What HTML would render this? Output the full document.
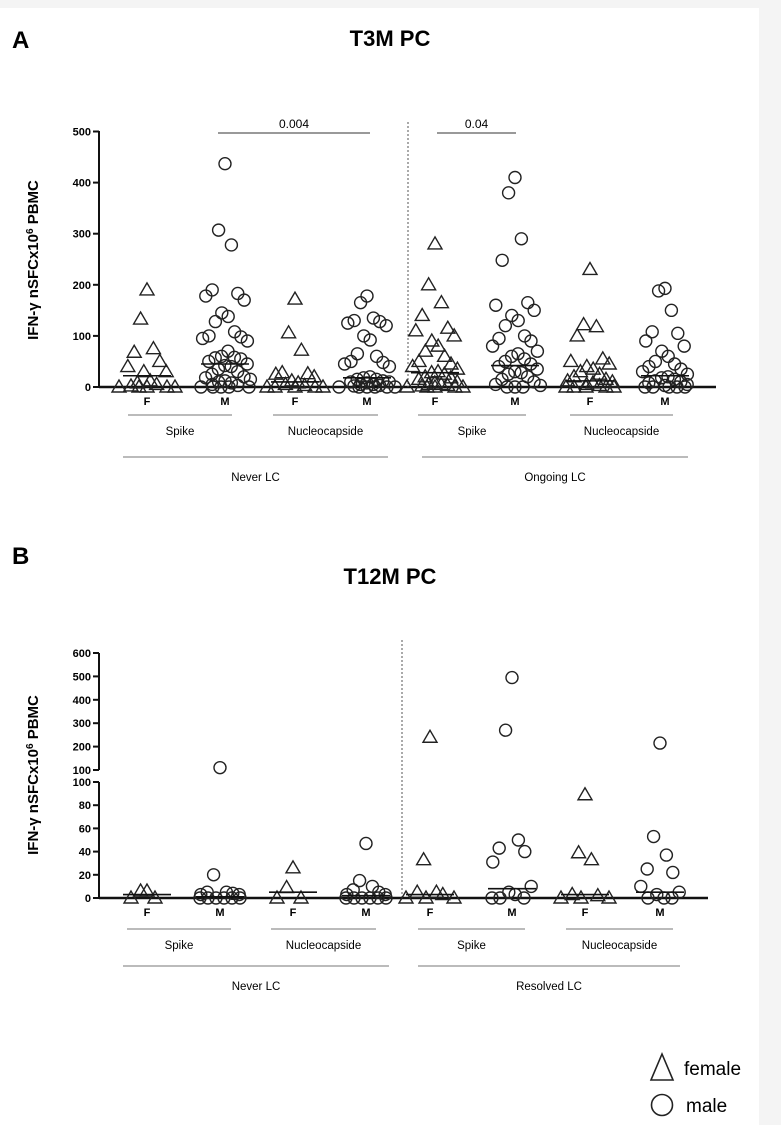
<!DOCTYPE html>
<html><head><meta charset="utf-8"><style>
html,body{margin:0;padding:0;background:#fff;}
body{width:781px;height:1125px;overflow:hidden;position:relative;font-family:"Liberation Sans",Arial,sans-serif;}
svg text{font-family:"Liberation Sans",Arial,sans-serif;}
</style></head><body>
<svg id="chart" width="781" height="1125" viewBox="0 0 781 1125" xmlns="http://www.w3.org/2000/svg">
<rect x="0" y="0" width="781" height="8" fill="#f4f4f4"/>
<rect x="759" y="0" width="22" height="1125" fill="#f4f4f4"/>
<text x="12" y="48" font-size="24" font-weight="bold">A</text>
<text x="390" y="46" font-size="22" font-weight="bold" text-anchor="middle">T3M PC</text>
<text x="12" y="564" font-size="24" font-weight="bold">B</text>
<text x="390" y="584" font-size="22" font-weight="bold" text-anchor="middle">T12M PC</text>
<g id="gA"></g>
<g id="gB"></g>
<g>
<polygon points="662,1054 651,1080 673,1080" fill="none" stroke="#222" stroke-width="1.6"/>
<text x="684" y="1075" font-size="19">female</text>
<circle cx="662" cy="1105" r="10.5" fill="none" stroke="#222" stroke-width="1.6"/>
<text x="686" y="1112" font-size="19">male</text>
</g>
</svg>
<script>
// ---- data ----
const groupLabels = ["F","M","F","M","F","M","F","M"];
const antigenLabels = ["Spike","Nucleocapside","Spike","Nucleocapside"];
const cohortA = ["Never LC","Ongoing LC"];
const cohortB = ["Never LC","Resolved LC"];
const ticksA = [0,100,200,300,400,500];
const ticksBLow = [0,20,40,60,80,100];
const ticksBHigh = [100,200,300,400,500,600];
const A_NS_F = [190,133,75,68,50,40,30,30,12,8,5,2,0,0,0,0,0];
const A_NS_M = [437,307,278,190,183,178,170,145,138,128,108,100,98,95,90,70,60,58,57,55,50,45,42,40,35,30,25,20,18,15,12,10,8,5,3,0,0,0,0,0];
const A_NN_F = [172,106,72,28,26,25,20,12,8,5,3,0,0,0,0,0];
const A_NN_M = [178,165,135,130,128,125,120,100,92,65,60,50,48,45,40,20,18,15,15,12,10,10,8,5,5,3,2,0,0,0,0,0,0];
const A_OS_F = [280,200,165,140,115,110,100,90,80,70,60,50,45,40,35,30,28,25,20,18,15,10,8,5,5,3,2,0,0,0,0,0];
const A_OS_M = [410,380,290,248,165,160,150,140,130,120,100,95,90,80,70,65,60,55,50,45,40,35,30,28,25,20,15,10,5,3,0,0,0];
const A_ON_F = [230,122,118,100,55,50,45,40,35,30,25,20,15,12,10,8,5,3,0,0,0,0,0];
const A_ON_M = [193,188,150,108,105,90,80,70,60,50,45,40,35,30,25,20,18,15,12,10,8,5,3,0,0,0,0,0];
const mediansA = [22,45,10,18,28,42,12,22];
const B_NS_F = [6,6,0,0];
const B_NS_M = [110,20,5,5,4,3,3,0,0,0,0,0,0];
const B_NN_F = [26,9,0,0];
const B_NN_M = [47,15,10,7,5,3,3,0,0,0,0,0,0];
const B_RS_F = [240,33,5,5,3,0,0,0];
const B_RS_M = [495,270,50,43,40,31,10,5,3,0,0,0];
const B_RN_F = [89,39,33,3,2,0,0,0];
const B_RN_M = [215,53,37,25,22,10,5,3,0,0,0];
const mediansB = [3,1,5,2,3,8,3,5];
const pValues = ["0.004","0.04"];

const NS="http://www.w3.org/2000/svg";
function mk(parent,tag,attrs){const e=document.createElementNS(NS,tag);for(const k in attrs)e.setAttribute(k,attrs[k]);parent.appendChild(e);return e;}
const jit=[0,-8,8,-16,16,-24,24,-4,4,-12,12,-20,20,-28,28];

function drawPanel(g,cfg){
  const ax=cfg.axisX;
  // axes
  const yl=mk(g,'line',{x1:ax,x2:ax,y1:cfg.axisTop,y2:cfg.y0,stroke:'#111','stroke-width':2});
  
  
  if(cfg.breakTop){
    const yl2=mk(g,'line',{x1:ax,x2:ax,y1:cfg.breakTop[0],y2:cfg.breakTop[1],stroke:'#111','stroke-width':2});
    
    
  }
  const xl=mk(g,'line',{x1:ax,x2:cfg.axisRight,y1:cfg.y0,y2:cfg.y0,stroke:'#111','stroke-width':2.4});
  
  
  cfg.ticks.forEach(t=>{
    const y=t.y;
    const tl=mk(g,'line',{x1:ax-6,x2:ax,y1:y,y2:y,stroke:'#111','stroke-width':2});
    
    
    const tx=mk(g,'text',{x:ax-8,y:y+4,'font-size':11,'font-weight':'bold','text-anchor':'end'});
    tx.textContent=t.label;
    
    
  });
  const yt=mk(g,'text',{x:0,y:0,'font-size':15,'font-weight':'bold','text-anchor':'middle',transform:`translate(${cfg.titleX},${cfg.titleY}) rotate(-90)`});
  yt.innerHTML='IFN-γ nSFCx10<tspan dy="-5" font-size="10">6</tspan><tspan dy="5"> PBMC</tspan>';
  
  
  const dl=mk(g,'line',{x1:cfg.divX,x2:cfg.divX,y1:cfg.divTop,y2:cfg.y0,stroke:'#555','stroke-width':1,'stroke-dasharray':'2,2'});
  
  
  // points
  cfg.groups.forEach((vals,gi)=>{
    const cx=cfg.centers[gi];
    const female=gi%2===0;
    vals.forEach((v,i)=>{
      const x=cx+jit[i%jit.length]*(v===0?1:0.8)+(v===0?0:((Math.floor(i/jit.length))%2)*3);
      const y=cfg.yScale(v);
      let m;
      if(female){
        m=mk(g,'polygon',{points:`${x},${y-7} ${x-7},${y+5} ${x+7},${y+5}`,fill:'none',stroke:'#222','stroke-width':1.4});
        
      }else{
        m=mk(g,'circle',{cx:x,cy:y,r:6,fill:'none',stroke:'#222','stroke-width':1.4});
        
      }
      
    });
    const my=cfg.yScale(cfg.medians[gi]);
    const ml=mk(g,'line',{x1:cx-24,x2:cx+24,y1:my,y2:my,stroke:'#111','stroke-width':1.6});
    
    
    const gl=mk(g,'text',{x:cx,y:cfg.y0+18,'font-size':11,'font-weight':'bold','text-anchor':'middle'});
    gl.textContent=groupLabels[gi];
    
    
  });
  cfg.subLines.forEach((s,i)=>{
    const l=mk(g,'line',{x1:s[0],x2:s[1],y1:cfg.subY,y2:cfg.subY,stroke:'#777','stroke-width':1});
    
    
    const t=mk(g,'text',{x:(s[0]+s[1])/2,y:cfg.subY+20,'font-size':11.5,'text-anchor':'middle'});
    t.textContent=antigenLabels[i];
    
    
  });
  cfg.bigLines.forEach((s,i)=>{
    const l=mk(g,'line',{x1:s[0],x2:s[1],y1:cfg.bigY,y2:cfg.bigY,stroke:'#777','stroke-width':1});
    
    
    const t=mk(g,'text',{x:(s[0]+s[1])/2,y:cfg.bigY+24,'font-size':11.5,'text-anchor':'middle'});
    t.textContent=cfg.cohorts[i];
    
    
  });
}

// Panel A
const yA=v=>387-v*0.511;
drawPanel(document.getElementById('gA'),{
  axisX:99,axisTop:131,y0:387,axisRight:716,
  ticks:ticksA.map(t=>({y:yA(t),label:t})),
  yScale:yA,titleX:38,titleY:260,divX:408,divTop:122,
  groups:[A_NS_F,A_NS_M,A_NN_F,A_NN_M,A_OS_F,A_OS_M,A_ON_F,A_ON_M],
  centers:[147,225,295,367,435,515,590,665],medians:mediansA,
  subLines:[[128,232],[273,378],[418,526],[570,673]],subY:415,
  bigLines:[[123,388],[422,688]],bigY:457,cohorts:cohortA
});
// Panel B (broken axis)
const yB=v=>v<=100?898-v*1.16:770-(v-100)*0.234;
drawPanel(document.getElementById('gB'),{
  axisX:99,axisTop:782,y0:898,axisRight:708,breakTop:[653,770],
  ticks:ticksBLow.map(t=>({y:yB(t),label:t})).concat(ticksBHigh.map(t=>({y:770-(t-100)*0.234,label:t}))),
  yScale:yB,titleX:38,titleY:775,divX:402,divTop:640,
  groups:[B_NS_F,B_NS_M,B_NN_F,B_NN_M,B_RS_F,B_RS_M,B_RN_F,B_RN_M],
  centers:[147,220,293,366,430,512,585,660],medians:mediansB,
  subLines:[[127,231],[271,376],[418,525],[566,673]],subY:929,
  bigLines:[[123,389],[418,680]],bigY:966,cohorts:cohortB
});
// significance
const gA=document.getElementById('gA');
[[218,370,pValues[0]],[437,516,pValues[1]]].forEach(s=>{
  const l=mk(gA,'line',{x1:s[0],x2:s[1],y1:133,y2:133,stroke:'#333','stroke-width':1});
  
  
  const t=mk(gA,'text',{x:(s[0]+s[1])/2,y:128,'font-size':12,'text-anchor':'middle'});
  t.textContent=s[2];
  
  
});
</script>
</body></html>
